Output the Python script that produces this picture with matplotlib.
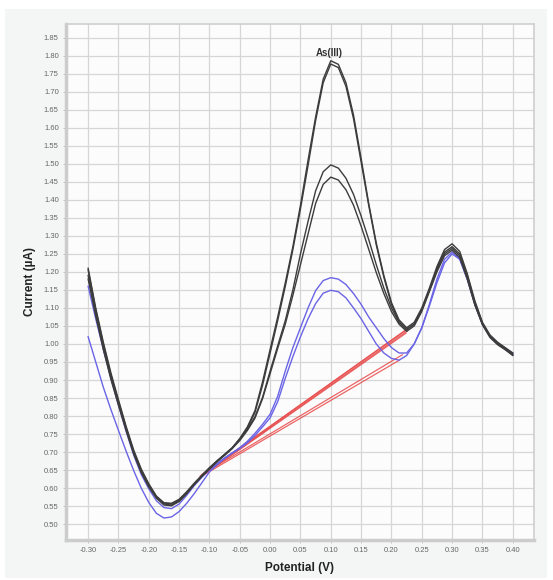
import numpy as np
import matplotlib
matplotlib.use("Agg")
import matplotlib.pyplot as plt
from matplotlib.patches import Rectangle

plt.rcParams['font.family'] = ['Liberation Sans', 'DejaVu Sans']

# Potential grid (V) at which the curves were read
potential = np.round(np.arange(-0.30, 0.40001, 0.0125), 4)

# Current (uA) - black scans (with As(III))
black_a = [1.21, 1.10, 1.005, 0.92, 0.845, 0.772, 0.706, 0.653, 0.612, 0.578,
           0.559, 0.556, 0.567, 0.588, 0.612, 0.634, 0.655, 0.675, 0.693, 0.712,
           0.738, 0.77, 0.815, 0.895, 0.985, 1.075, 1.17, 1.27, 1.385, 1.51,
           1.63, 1.735, 1.786, 1.776, 1.725, 1.635, 1.515, 1.39, 1.28, 1.19,
           1.115, 1.067, 1.045, 1.06, 1.10, 1.155, 1.215, 1.262, 1.278, 1.257,
           1.195, 1.12, 1.06, 1.025, 1.005, 0.99, 0.975]
black_b = [1.205, 1.095, 1.0, 0.915, 0.84, 0.768, 0.702, 0.65, 0.608, 0.575,
           0.556, 0.553, 0.564, 0.585, 0.61, 0.632, 0.653, 0.673, 0.691, 0.71,
           0.735, 0.766, 0.81, 0.885, 0.975, 1.065, 1.16, 1.262, 1.375, 1.495,
           1.62, 1.725, 1.777, 1.767, 1.715, 1.625, 1.505, 1.385, 1.275, 1.185,
           1.11, 1.062, 1.04, 1.055, 1.095, 1.15, 1.21, 1.255, 1.27, 1.25,
           1.19, 1.115, 1.058, 1.022, 1.002, 0.988, 0.972]
black_c = [1.19, 1.085, 0.99, 0.908, 0.835, 0.765, 0.70, 0.648, 0.607, 0.576,
           0.559, 0.558, 0.569, 0.59, 0.614, 0.636, 0.657, 0.676, 0.694, 0.712,
           0.735, 0.763, 0.798, 0.852, 0.925, 0.995, 1.065, 1.15, 1.25, 1.34,
           1.425, 1.478, 1.497, 1.488, 1.46, 1.415, 1.355, 1.29, 1.22, 1.155,
           1.10, 1.06, 1.04, 1.055, 1.095, 1.148, 1.205, 1.25, 1.265, 1.245,
           1.185, 1.112, 1.056, 1.02, 1.0, 0.986, 0.97]
black_d = [1.18, 1.078, 0.985, 0.902, 0.83, 0.76, 0.695, 0.643, 0.603, 0.572,
           0.553, 0.551, 0.563, 0.585, 0.61, 0.633, 0.655, 0.674, 0.692, 0.71,
           0.732, 0.76, 0.794, 0.848, 0.918, 0.988, 1.055, 1.135, 1.22, 1.305,
           1.39, 1.443, 1.463, 1.455, 1.428, 1.385, 1.327, 1.263, 1.198, 1.14,
           1.09, 1.055, 1.035, 1.05, 1.09, 1.145, 1.2, 1.245, 1.26, 1.24,
           1.18, 1.108, 1.053, 1.018, 0.998, 0.984, 0.968]

# Current (uA) - blue scans
blue_e = [1.16, 1.07, 0.985, 0.905, 0.83, 0.758, 0.692, 0.638, 0.598, 0.565,
          0.546, 0.543, 0.556, 0.58, 0.607, 0.63, 0.652, 0.668, 0.684, 0.698,
          0.712, 0.73, 0.752, 0.777, 0.805, 0.855, 0.925, 0.99, 1.045, 1.10,
          1.148, 1.176, 1.184, 1.18, 1.165, 1.14, 1.11, 1.075, 1.045, 1.015,
          0.99, 0.975, 0.975, 1.0, 1.045, 1.11, 1.18, 1.235, 1.255, 1.237,
          1.18, 1.11, 1.055, 1.02, 1.0, 0.988, 0.975]
blue_f = [1.02, 0.95, 0.88, 0.818, 0.76, 0.703, 0.649, 0.60, 0.56, 0.53,
          0.517, 0.52, 0.535, 0.558, 0.585, 0.615, 0.645, 0.665, 0.682, 0.697,
          0.71, 0.726, 0.746, 0.77, 0.795, 0.84, 0.905, 0.965, 1.02, 1.07,
          1.112, 1.141, 1.149, 1.145, 1.128, 1.10, 1.07, 1.035, 1.0, 0.975,
          0.96, 0.955, 0.968, 1.0, 1.045, 1.105, 1.17, 1.225, 1.25, 1.235,
          1.18, 1.11, 1.055, 1.02, 1.0, 0.985, 0.97]

# Baselines (red): start/end potentials and currents
base_x0 = [-0.115, -0.116, -0.112, -0.113, -0.11, -0.108]
base_y0 = [0.634, 0.630, 0.638, 0.633, 0.64, 0.638]
base_x1 = [0.228, 0.226, 0.226, 0.224, 0.218, 0.213]
base_y1 = [1.043, 1.036, 1.042, 1.03, 0.97, 0.955]

x_ticks = [-0.30, -0.25, -0.20, -0.15, -0.10, -0.05, 0.00, 0.05, 0.10,
           0.15, 0.20, 0.25, 0.30, 0.35, 0.40]
y_ticks = [0.50, 0.55, 0.60, 0.65, 0.70, 0.75, 0.80, 0.85, 0.90, 0.95,
           1.00, 1.05, 1.10, 1.15, 1.20, 1.25, 1.30, 1.35, 1.40, 1.45,
           1.50, 1.55, 1.60, 1.65, 1.70, 1.75, 1.80, 1.85]

W, H = 553, 580
fig = plt.figure(figsize=(W / 100, H / 100), dpi=100)
fig.patch.set_facecolor('white')
fig.patches.append(Rectangle((5 / W, 1 - 578 / H), 542 / W, 569 / H,
                             transform=fig.transFigure, facecolor='#f4f6f6',
                             edgecolor='none', zorder=-10))

ax = fig.add_axes([65.7 / W, 1 - 540 / H, (534 - 65.7) / W, (540 - 24) / H])
ax.set_facecolor('#fcfcfc')
ax.set_xlim(-0.337, 0.435)
ax.set_ylim(0.456, 1.888)

ax.set_xticks(x_ticks)
ax.set_yticks(y_ticks)
ax.set_xticklabels([f"{v:.2f}" for v in x_ticks])
ax.set_yticklabels([f"{v:.2f}" for v in y_ticks])
ax.tick_params(axis='both', labelsize=5.5, labelcolor='#666666', colors='#bbbbbb',
               length=2, width=0.6, pad=3)
for lab in ax.get_xticklabels() + ax.get_yticklabels():
    lab.set_color('#666666')
ax.grid(True, color='#d6d6d6', linewidth=0.9)
ax.set_axisbelow(True)

for side in ['left', 'bottom']:
    ax.spines[side].set_color('#cccccc')
    ax.spines[side].set_linewidth(2.5)
for side in ['top', 'right']:
    ax.spines[side].set_color('#cfcfcf')
    ax.spines[side].set_linewidth(1.2)

for x0, y0, x1, y1 in zip(base_x0, base_y0, base_x1, base_y1):
    ax.plot([x0, x1], [y0, y1], color='#e84a4a', lw=0.9, alpha=0.85, zorder=3)

for ys in [blue_e, blue_f]:
    ax.plot(potential, ys, color='#6a64e6', lw=1.0, zorder=4,
            solid_joinstyle='round')
for ys in [black_a, black_b, black_c, black_d]:
    ax.plot(potential, ys, color='#3c3c3c', lw=1.0, zorder=5,
            solid_joinstyle='round')

ax.text(0.097, 1.808, 'As(III)', fontsize=7, fontweight='bold', color='#333333',
        ha='center', va='center', zorder=6)

ax.set_xlabel('Potential (V)', fontsize=8.5, fontweight='bold', color='#222222',
              labelpad=6)
ax.set_ylabel('Current (µA)', fontsize=8.5, fontweight='bold', color='#222222',
              labelpad=6)

fig.savefig('out.png', dpi=100)
